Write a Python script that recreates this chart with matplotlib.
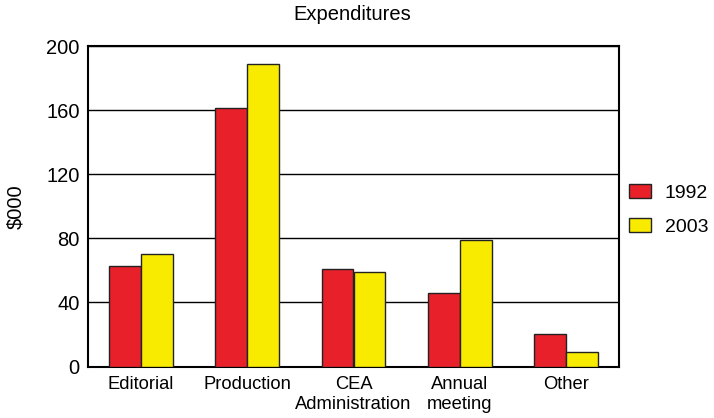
import numpy as np
import matplotlib
matplotlib.use('Agg')
import matplotlib.pyplot as plt

plt.rcParams['font.family'] = ['Liberation Sans', 'DejaVu Sans']

# Data ($000)
categories = ['Editorial', 'Production', 'CEA\nAdministration', 'Annual\nmeeting', 'Other']
years = ['1992', '2003']
vals_1992 = [63, 161, 61, 46, 20]
vals_2003 = [70, 189, 59, 79, 9]
yticks = [0, 40, 80, 120, 160, 200]

red = '#E8202A'
yellow = '#F8EB00'

fig = plt.figure(figsize=(7.14, 4.18), dpi=100)
ax = fig.add_axes([88 / 714, 1 - 366.5 / 418, (619 - 88) / 714, (366.5 - 46) / 418])

x = np.arange(len(categories))
w = 0.3
ax.bar(x - w / 2, vals_1992, w, color=red, edgecolor='#222222', linewidth=1, label=years[0], zorder=3)
ax.bar(x + w / 2, vals_2003, w, color=yellow, edgecolor='#222222', linewidth=1, label=years[1], zorder=3)

ax.set_xlim(-0.5, len(categories) - 0.5)
ax.set_ylim(0, 200)
ax.set_yticks(yticks)
ax.set_xticks(x)
ax.set_xticklabels(categories, fontsize=13.2, linespacing=1.25)
ax.tick_params(axis='both', length=0)
ax.tick_params(axis='y', pad=6, labelsize=14.5)
ax.tick_params(axis='x', pad=7)
ax.grid(axis='y', color='black', linewidth=1, zorder=0)
for s in ax.spines.values():
    s.set_linewidth(1.5)
    s.set_color('black')

ax.set_ylabel('$000', fontsize=14.5)
ax.yaxis.set_label_coords(-0.119, 0.5)

fig.text(352 / 714, 1 - 15 / 418, 'Expenditures', ha='center', va='center', fontsize=14.5)

ax.legend(loc='center left', bbox_to_anchor=(611.5 / 714, 1 - 210 / 418), bbox_transform=fig.transFigure,
          frameon=False, fontsize=14, handlelength=1.13, handleheight=0.72, handletextpad=0.72,
          labelspacing=0.83)

fig.savefig('out.png', dpi=100)
